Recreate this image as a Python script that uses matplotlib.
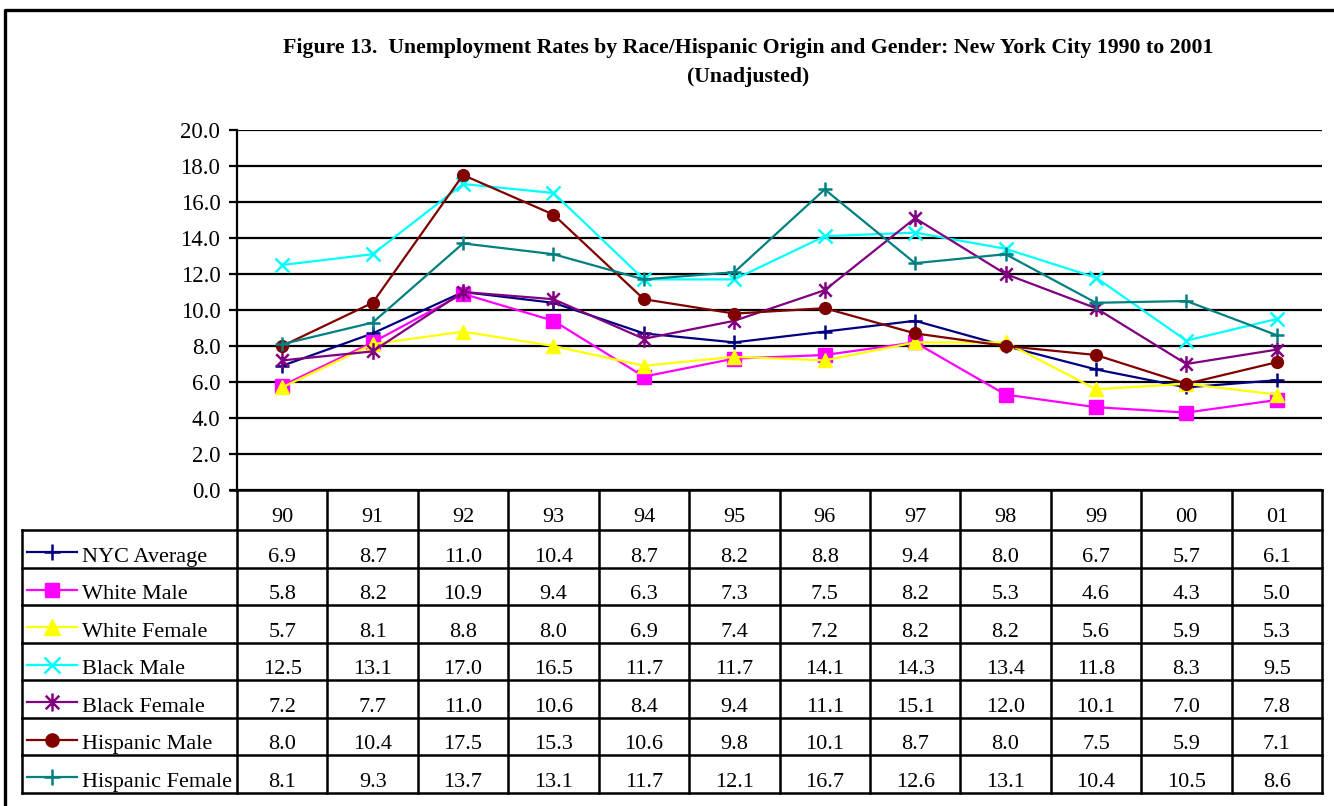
import matplotlib.pyplot as plt
import numpy as np
from matplotlib.path import Path

plt.rcParams['font.family'] = ['Liberation Serif', 'DejaVu Serif']

years = ['90', '91', '92', '93', '94', '95', '96', '97', '98', '99', '00', '01']
series = ['NYC Average', 'White Male', 'White Female', 'Black Male',
          'Black Female', 'Hispanic Male', 'Hispanic Female']
nyc_average = [6.9, 8.7, 11.0, 10.4, 8.7, 8.2, 8.8, 9.4, 8.0, 6.7, 5.7, 6.1]
white_male = [5.8, 8.2, 10.9, 9.4, 6.3, 7.3, 7.5, 8.2, 5.3, 4.6, 4.3, 5.0]
white_female = [5.7, 8.1, 8.8, 8.0, 6.9, 7.4, 7.2, 8.2, 8.2, 5.6, 5.9, 5.3]
black_male = [12.5, 13.1, 17.0, 16.5, 11.7, 11.7, 14.1, 14.3, 13.4, 11.8, 8.3, 9.5]
black_female = [7.2, 7.7, 11.0, 10.6, 8.4, 9.4, 11.1, 15.1, 12.0, 10.1, 7.0, 7.8]
hispanic_male = [8.0, 10.4, 17.5, 15.3, 10.6, 9.8, 10.1, 8.7, 8.0, 7.5, 5.9, 7.1]
hispanic_female = [8.1, 9.3, 13.7, 13.1, 11.7, 12.1, 16.7, 12.6, 13.1, 10.4, 10.5, 8.6]
values = [nyc_average, white_male, white_female, black_male,
          black_female, hispanic_male, hispanic_female]

# excel style asterisk: x plus a vertical bar
star = Path([(0, -1), (0, 1), (-0.75, -0.75), (0.75, 0.75), (-0.75, 0.75), (0.75, -0.75)],
            [Path.MOVETO, Path.LINETO] * 3)
colors = ['#000080', '#FF00FF', '#FFFF00', '#00FFFF', '#800080', '#800000', '#008080']
markers = ['+', 's', '^', 'x', star, 'o', '+']
msizes = [10, 9.5, 10, 10, 12, 8.5, 10]
mews = [1.8, 1, 1, 1.8, 1.8, 1, 1.8]

W, H = 1334, 806
fig = plt.figure(figsize=(W / 100, H / 100), dpi=100)

# pixel-space overlay for frame and table
ov = fig.add_axes([0, 0, 1, 1])
ov.set_xlim(0, W)
ov.set_ylim(H, 0)
ov.axis('off')
ov.plot([5, 5, W + 5], [H + 5, 10, 10], color='black', lw=2.4)

x_left, x_right = 237, 1322
y_top, y_zero = 130, 490
ax = fig.add_axes([x_left / W, 1 - y_zero / H, (x_right - x_left) / W, (y_zero - y_top) / H])
ax.set_xlim(-0.5, len(years) - 0.5)
ax.set_ylim(0, 20)
ax.set_yticks(np.arange(0, 21, 2))
ax.set_yticklabels(['%.1f' % v for v in np.arange(0, 21, 2)], fontsize=16.5)
ax.set_xticks([])
ax.yaxis.grid(True, color='black', lw=1.6)
ax.set_axisbelow(True)
for s in ['top', 'right', 'bottom']:
    ax.spines[s].set_visible(False)
ax.spines['left'].set_linewidth(1.6)
ax.tick_params(axis='y', length=6, width=1.6, pad=6)
ax.patch.set_alpha(0)

xs = np.arange(len(years))
for vals, c, m, ms, mw in zip(values, colors, markers, msizes, mews):
    ax.plot(xs, vals, color=c, lw=1.6, marker=m, markersize=ms, markeredgewidth=mw,
            markeredgecolor=c, markerfacecolor=c, clip_on=False, zorder=3)

# data table
col_w = (x_right - x_left) / len(years)
lab_left = 22
head_bot = 530
row_h = (793 - head_bot) / len(series)
tab_bot = head_bot + row_h * len(series)
lw_t = 1.8
ov.plot([x_left - 7, x_right], [y_zero, y_zero], color='black', lw=lw_t)
for k in range(len(years) + 1):
    ov.plot([x_left + k * col_w] * 2, [y_zero, tab_bot], color='black', lw=lw_t)
for r in range(len(series) + 1):
    ov.plot([lab_left, x_right], [head_bot + r * row_h] * 2, color='black', lw=lw_t)
ov.plot([lab_left, lab_left], [head_bot, tab_bot], color='black', lw=lw_t)

for k, yr in enumerate(years):
    ov.text(x_left + (k + 0.5) * col_w, head_bot - 8, yr, ha='center', va='baseline', fontsize=16)
for r, (name, vals, c, m, ms, mw) in enumerate(zip(series, values, colors, markers, msizes, mews)):
    top = head_bot + r * row_h
    ov.plot([27, 77], [top + 22, top + 22], color=c, lw=1.6)
    ov.plot([52], [top + 22], color=c, marker=m, markersize=ms + 1, markeredgewidth=mw,
            markeredgecolor=c, markerfacecolor=c)
    ov.text(82, top + row_h - 6, name, ha='left', va='baseline', fontsize=16)
    for k, v in enumerate(vals):
        ov.text(x_left + (k + 0.5) * col_w, top + row_h - 6, '%.1f' % v,
                ha='center', va='baseline', fontsize=16)

fig.text(748 / W, 1 - 48 / H, 'Figure 13.  Unemployment Rates by Race/Hispanic Origin and Gender: New York City 1990 to 2001',
         ha='center', va='center', fontsize=15.7, fontweight='bold')
fig.text(748 / W, 1 - 77 / H, '(Unadjusted)', ha='center', va='center', fontsize=15.7, fontweight='bold')

fig.savefig('out.png', dpi=100)
